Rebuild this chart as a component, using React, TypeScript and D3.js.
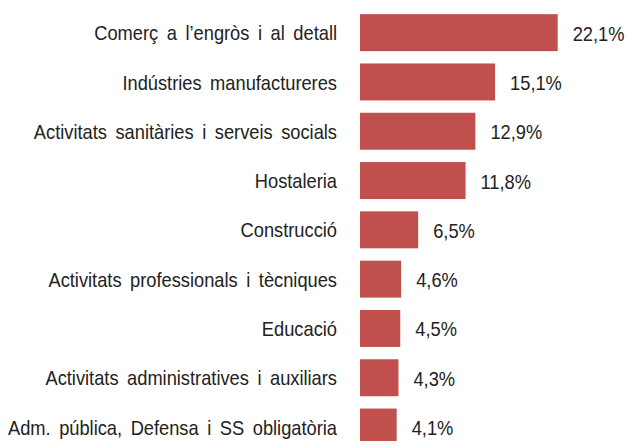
import * as d3 from "d3";
import { useEffect, useRef } from "react";

// sectors, top to bottom
const sectors = [
  "Comerç a l’engròs i al detall",
  "Indústries manufactureres",
  "Activitats sanitàries i serveis socials",
  "Hostaleria",
  "Construcció",
  "Activitats professionals i tècniques",
  "Educació",
  "Activitats administratives i auxiliars",
  "Adm. pública, Defensa i SS obligatòria",
];
const shares = [22.1, 15.1, 12.9, 11.8, 6.5, 4.6, 4.5, 4.3, 4.1];
const shareLabels = ["22,1%", "15,1%", "12,9%", "11,8%", "6,5%", "4,6%", "4,5%", "4,3%", "4,1%"];

const FONT = "'Liberation Sans Narrow', 'Arial Narrow', 'Liberation Sans', Arial, sans-serif";
const SQUEEZE = 0.87; // narrow look of the original font

function App() {
  const ref = useRef<SVGSVGElement | null>(null);

  useEffect(() => {
    const width = 627;
    const height = 441;
    const svg = d3.select(ref.current);
    svg.selectAll("*").remove();

    const x = d3.scaleLinear().domain([0, 22.1]).range([360, 557.7]);
    const y = d3.scaleBand<string>()
      .domain(sectors)
      .range([8, 8 + 49.3 * sectors.length])
      .paddingInner(0.25)
      .paddingOuter(0.125);

    const data = sectors.map((s, i) => ({ s, v: shares[i], lab: shareLabels[i] }));
    const mid = (d: { s: string }) => y(d.s)! + y.bandwidth() / 2;

    svg.append("g")
      .selectAll("rect")
      .data(data)
      .enter()
      .append("rect")
      .attr("x", x(0))
      .attr("y", d => y(d.s)!)
      .attr("width", d => x(d.v) - x(0))
      .attr("height", y.bandwidth())
      .attr("fill", "#C0504D");

    // category names, right aligned against the bars
    svg.append("g")
      .selectAll("text")
      .data(data)
      .enter()
      .append("text")
      .attr("transform", d => `translate(337,${mid(d)}) scale(${SQUEEZE},1)`)
      .attr("dy", "0.36em")
      .attr("text-anchor", "end")
      .style("font-family", FONT)
      .style("font-size", "21px")
      .style("word-spacing", "4px")
      .attr("fill", "#222")
      .text(d => d.s);

    // value labels
    svg.append("g")
      .selectAll("text")
      .data(data)
      .enter()
      .append("text")
      .attr("transform", d => `translate(${x(d.v) + 15},${mid(d)}) scale(${SQUEEZE},1)`)
      .attr("dy", "0.38em")
      .style("font-family", FONT)
      .style("font-size", "21px")
      .attr("fill", "#222")
      .text(d => d.lab);

    svg.attr("width", width).attr("height", height);
  }, []);

  return (
    <div style={{ position: "absolute", left: 0, top: 0 }}>
      <svg ref={ref} style={{ display: "block", background: "#fff" }} />
    </div>
  );
}

export default App;
